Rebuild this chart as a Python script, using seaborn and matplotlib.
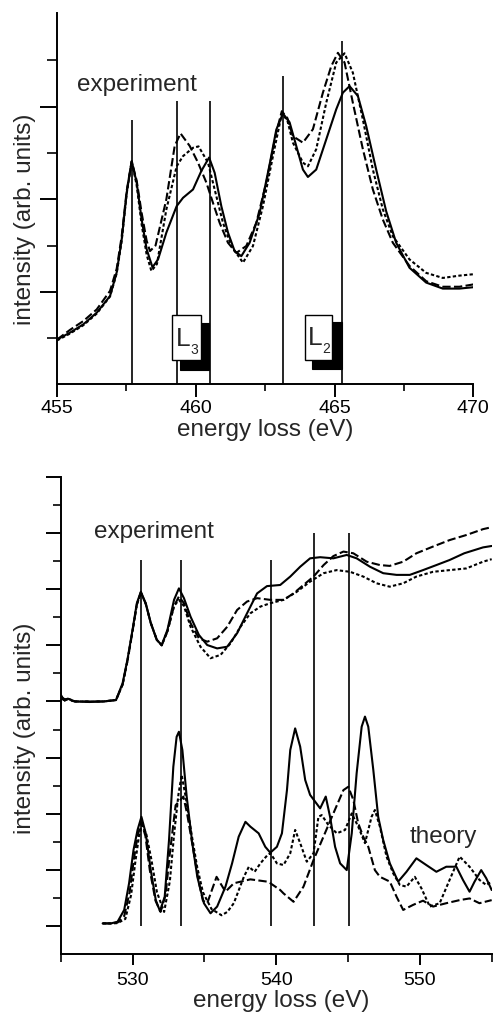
import numpy as np
import pandas as pd
import matplotlib
matplotlib.use("Agg")
import matplotlib.pyplot as plt
from matplotlib.patches import Rectangle
import seaborn as sns

# ---------------- data: top panel (L2,3 edge) ----------------
top_solid_x = [455.0, 455.47, 455.95, 456.43, 456.91, 457.15, 457.33, 457.51, 457.69, 457.87,
               458.05, 458.23, 458.44, 458.64, 458.94, 459.31, 459.54, 459.90, 460.20, 460.48,
               460.68, 460.92, 461.16, 461.40, 461.64, 461.94, 462.30, 462.66, 462.90, 463.14,
               463.38, 463.62, 463.86, 464.04, 464.34, 464.70, 465.06, 465.30, 465.54, 465.84,
               466.14, 466.50, 466.86, 467.22, 467.70, 468.30, 468.90, 469.50, 470.0]
top_solid_y = [0.97, 1.12, 1.30, 1.55, 1.91, 2.42, 3.13, 4.14, 4.82, 4.36,
               3.56, 2.92, 2.53, 2.70, 3.28, 3.85, 4.03, 4.21, 4.61, 4.90,
               4.57, 3.85, 3.28, 2.88, 2.77, 3.06, 3.70, 4.75, 5.50, 5.85,
               5.66, 5.15, 4.64, 4.48, 4.64, 5.29, 5.94, 6.30, 6.44, 6.23,
               5.58, 4.64, 3.74, 3.06, 2.52, 2.20, 2.07, 2.07, 2.10]

top_dash_x = [455.0, 455.47, 455.95, 456.43, 456.91, 457.15, 457.33, 457.51, 457.69, 457.87,
              458.05, 458.23, 458.35, 458.55, 458.94, 459.24, 459.45, 459.78, 460.08, 460.38,
              460.62, 460.86, 461.16, 461.46, 461.82, 462.18, 462.54, 462.90, 463.10, 463.30,
              463.50, 463.86, 464.22, 464.58, 464.88, 465.12, 465.36, 465.66, 466.02, 466.38,
              466.74, 467.10, 467.70, 468.30, 468.90, 469.50, 470.0]
top_dash_y = [0.97, 1.18, 1.37, 1.62, 2.02, 2.50, 3.20, 4.18, 4.82, 4.40,
              3.70, 3.10, 2.88, 3.00, 4.00, 5.15, 5.42, 5.15, 4.79, 4.36,
              3.92, 3.49, 3.06, 2.84, 2.99, 3.49, 4.36, 5.44, 5.90, 5.75,
              5.36, 5.22, 5.51, 6.30, 6.87, 7.16, 6.95, 6.08, 5.08, 4.21,
              3.56, 3.06, 2.56, 2.23, 2.11, 2.11, 2.16]

top_dot_x = [455.0, 455.47, 455.95, 456.43, 456.91, 457.15, 457.33, 457.51, 457.69, 457.87,
             458.05, 458.23, 458.40, 458.60, 458.94, 459.31, 459.54, 459.90, 460.10, 460.44,
             460.68, 460.98, 461.28, 461.70, 462.06, 462.42, 462.78, 463.10, 463.30, 463.50,
             463.86, 464.04, 464.34, 464.70, 465.06, 465.36, 465.66, 466.02, 466.38, 466.74,
             467.10, 467.70, 468.30, 468.90, 469.50, 470.0]
top_dot_y = [0.95, 1.10, 1.28, 1.53, 1.90, 2.40, 3.10, 4.12, 4.82, 4.30,
             3.45, 2.80, 2.45, 2.60, 3.78, 4.71, 4.93, 5.11, 5.14, 4.79,
             4.21, 3.49, 2.99, 2.63, 2.99, 3.85, 4.93, 5.85, 5.70, 5.22,
             4.79, 4.71, 5.08, 6.08, 6.95, 7.15, 6.73, 5.72, 4.64, 3.78,
             3.20, 2.70, 2.41, 2.30, 2.35, 2.38]

top_lines_x = [457.69, 459.34, 460.50, 463.14, 465.26]
top_lines_top = [5.72, 6.13, 6.13, 6.65, 7.41]

top_xticks = [455, 460, 465, 470]
top_xminor = [457.5, 462.5, 467.5]

# ---------------- data: bottom panel (O K edge) ----------------
exp_solid_x = [525.0, 525.2, 525.5, 526.0, 527.0, 528.0, 528.85, 529.31, 529.65, 530.0,
               530.30, 530.58, 530.92, 531.27, 531.69, 532.03, 532.43, 532.89, 533.23, 533.58,
               534.04, 534.62, 535.20, 535.89, 536.59, 537.28, 537.97, 538.67, 539.36, 540.28,
               540.98, 541.67, 542.36, 543.06, 543.98, 544.91, 545.60, 546.53, 547.45, 548.38,
               549.30, 550.22, 551.15, 552.07, 553.09, 554.40, 555.0]
exp_solid_y = [9.25, 9.05, 9.1, 9.0, 8.98, 9.0, 9.05, 9.65, 10.5, 11.55,
               12.50, 12.91, 12.50, 11.79, 11.19, 11.01, 11.55, 12.62, 13.03, 12.68,
               12.02, 11.37, 11.01, 10.89, 10.95, 11.43, 12.14, 12.85, 13.11, 13.15,
               13.45, 13.80, 14.10, 14.14, 14.10, 14.22, 14.10, 13.80, 13.57, 13.51,
               13.51, 13.68, 13.86, 14.04, 14.28, 14.49, 14.54]

exp_dash_x = [525.0, 525.2, 525.5, 526.0, 527.0, 528.0, 528.85, 529.31, 529.65, 530.0,
              530.30, 530.58, 530.92, 531.27, 531.69, 532.03, 532.43, 532.89, 533.23, 533.58,
              534.04, 534.62, 535.20, 535.89, 536.59, 537.28, 537.97, 538.67, 539.59, 540.51,
              541.21, 541.90, 542.60, 543.30, 543.98, 544.68, 545.37, 546.30, 547.22, 547.90,
              548.84, 549.76, 550.92, 552.07, 553.23, 554.40, 555.0]
exp_dash_y = [9.2, 9.1, 9.05, 9.0, 9.0, 9.0, 9.05, 9.6, 10.45, 11.5,
              12.45, 12.88, 12.48, 11.8, 11.2, 11.0, 11.5, 12.4, 12.74, 12.5,
              11.79, 11.25, 11.13, 11.25, 11.66, 12.26, 12.56, 12.68, 12.62, 12.62,
              12.85, 13.15, 13.45, 13.86, 14.18, 14.34, 14.28, 13.98, 13.86, 13.83,
              13.98, 14.28, 14.52, 14.75, 14.93, 15.14, 15.21]

exp_dot_x = [525.0, 525.2, 525.5, 526.0, 527.0, 528.0, 528.85, 529.31, 529.65, 530.0,
             530.30, 530.58, 530.92, 531.27, 531.69, 532.03, 532.43, 532.89, 533.23, 533.58,
             534.04, 534.73, 535.43, 536.13, 536.82, 537.51, 538.20, 538.90, 539.59, 540.51,
             541.44, 542.36, 543.30, 544.20, 545.14, 546.06, 546.99, 547.90, 548.84, 549.76,
             550.92, 552.07, 553.23, 554.40, 555.0]
exp_dot_y = [9.15, 9.0, 9.1, 9.0, 9.0, 9.0, 9.05, 9.6, 10.45, 11.5,
             12.45, 12.88, 12.48, 11.8, 11.2, 11.0, 11.5, 12.4, 12.62, 12.4,
             11.66, 10.95, 10.54, 10.66, 11.07, 11.66, 12.14, 12.38, 12.50, 12.62,
             12.91, 13.27, 13.57, 13.68, 13.62, 13.45, 13.21, 13.09, 13.21, 13.45,
             13.62, 13.68, 13.74, 13.98, 14.07]

th_solid_x = [527.92, 528.5, 528.96, 529.42, 529.76, 530.07, 530.35, 530.62, 530.92, 531.27,
              531.62, 531.91, 532.24, 532.54, 532.84, 533.07, 533.23, 533.47, 533.77, 534.16,
              534.51, 534.97, 535.43, 535.89, 536.47, 536.93, 537.39, 537.86, 538.20, 538.78,
              539.24, 539.59, 540.05, 540.40, 540.75, 540.98, 541.32, 541.67, 542.02, 542.36,
              542.71, 543.06, 543.45, 543.75, 544.10, 544.45, 544.91, 545.26, 545.60, 545.95,
              546.18, 546.41, 546.76, 547.10, 547.45, 547.91, 548.49, 549.07, 549.76, 550.45,
              551.15, 551.84, 552.54, 553.00, 553.46, 553.81, 554.27, 554.62, 555.0]
th_solid_y = [1.09, 1.09, 1.15, 1.57, 2.52, 3.71, 4.42, 4.89, 4.30, 2.99,
              1.92, 1.53, 2.04, 4.06, 6.67, 7.74, 7.92, 7.27, 5.61, 3.95,
              2.75, 1.81, 1.45, 1.69, 2.40, 3.23, 4.18, 4.71, 4.54, 4.30,
              3.82, 3.61, 3.82, 4.30, 5.84, 7.27, 8.04, 7.39, 6.20, 5.67,
              5.43, 5.19, 5.61, 4.89, 3.82, 3.23, 2.99, 4.30, 6.44, 8.10,
              8.46, 8.10, 6.56, 4.89, 4.06, 3.23, 2.58, 2.93, 3.41, 3.17,
              2.93, 3.11, 3.11, 2.64, 2.22, 2.58, 2.99, 2.70, 2.28]

th_dash_x = [527.92, 528.5, 528.96, 529.42, 529.80, 530.10, 530.35, 530.62, 530.90, 531.20,
             531.60, 531.95, 532.30, 532.60, 533.00, 533.54, 533.80, 534.20, 534.60, 534.90,
             535.20, 535.85, 536.47, 537.05, 538.20, 539.36, 539.60, 540.28, 540.51, 541.21,
             541.90, 542.60, 543.29, 543.98, 544.68, 545.02, 545.37, 545.71, 546.06, 546.41,
             546.87, 547.22, 547.91, 548.38, 548.84, 549.53, 550.22, 550.92, 551.84, 552.77,
             553.46, 554.15, 555.0]
th_dash_y = [1.09, 1.09, 1.12, 1.35, 2.20, 3.40, 4.20, 4.70, 4.20, 3.00,
             1.90, 1.50, 2.10, 3.60, 5.30, 5.61, 5.00, 3.80, 2.60, 1.90,
             1.81, 2.75, 2.22, 2.52, 2.66, 2.58, 2.52, 2.28, 2.16, 1.86,
             2.40, 3.35, 4.18, 5.01, 5.84, 5.96, 5.49, 4.66, 4.18, 3.82,
             2.99, 2.75, 2.58, 2.04, 1.57, 1.75, 1.90, 1.69, 1.81, 1.92,
             1.98, 1.81, 1.92]

th_dot_x = [527.92, 528.5, 528.96, 529.50, 529.90, 530.20, 530.45, 530.65, 530.95, 531.30,
            531.70, 532.20, 532.60, 532.90, 533.20, 533.42, 533.70, 534.10, 534.50, 534.90,
            535.50, 536.20, 536.60, 537.05, 537.40, 537.75, 538.10, 538.50, 538.90, 539.40,
            539.60, 540.05, 540.51, 540.98, 541.32, 541.67, 542.13, 542.60, 542.94, 543.17,
            543.63, 544.22, 544.79, 545.26, 545.71, 546.18, 546.64, 546.87, 547.22, 547.68,
            548.14, 548.61, 549.07, 549.65, 550.11, 550.69, 551.38, 552.07, 552.77, 553.46,
            554.15, 554.62, 555.0]
th_dot_y = [1.09, 1.09, 1.10, 1.25, 2.10, 3.30, 4.20, 4.60, 4.30, 3.40,
            2.20, 1.50, 2.60, 4.30, 5.70, 6.38, 5.60, 4.30, 3.10, 2.20,
            1.60, 1.38, 1.50, 1.81, 2.28, 2.75, 3.11, 2.93, 3.23, 3.53,
            3.59, 3.23, 3.17, 3.59, 4.42, 3.95, 3.29, 3.59, 4.89, 4.95,
            4.60, 4.30, 4.42, 5.01, 4.54, 3.95, 4.89, 5.13, 4.54, 3.47,
            2.88, 2.46, 2.40, 2.75, 2.34, 1.69, 1.81, 2.64, 3.47, 3.11,
            2.64, 2.46, 2.58]

bot_lines_x = [530.62, 533.35, 539.65, 542.62, 545.06]
bot_lines_bottom = [1.0, 1.0, 1.0, 1.0, 1.0]
bot_lines_top = [14.04, 14.04, 14.04, 14.99, 14.99]

bot_xticks = [530, 540, 550]
bot_xminor = [525, 535, 545, 555]

# ---------------- style ----------------
sns.set_style("ticks")
plt.rcParams['font.family'] = ['Liberation Sans', 'DejaVu Sans']

LW = 1.5
DASH = (0, (4.0, 1.6))
DOT = (0, (1.6, 1.1))
LABEL_FS = 17.5
TICK_FS = 14

fig = plt.figure(figsize=(4.95, 10.15), dpi=100)
ax1 = fig.add_axes([0.1152, 0.6212, 0.8410, 0.3660])
ax2 = fig.add_axes([0.1226, 0.0601, 0.8707, 0.4700])


def draw(ax, xs, ys, ls):
    df = pd.DataFrame({"energy": xs, "intensity": ys})
    sns.lineplot(data=df, x="energy", y="intensity", ax=ax, color="black",
                 lw=LW, linestyle=ls, estimator=None, sort=False, zorder=5)


# ---- top panel ----
ax1.vlines(top_lines_x, 0, top_lines_top, colors="black", lw=1.2, zorder=2)
draw(ax1, top_solid_x, top_solid_y, "-")
draw(ax1, top_dash_x, top_dash_y, DASH)
draw(ax1, top_dot_x, top_dot_y, DOT)

# L3 / L2 markers (shadowed boxes)
for (sx, sy, sw, sh), (wx, wy, ww, wh), (lx, ly), (nx, ny), sub in [
        ((459.42, 0.32, 1.05, 1.00), (459.14, 0.52, 1.04, 0.97), (459.28, 0.84), (459.80, 0.65), "3"),
        ((464.20, 0.34, 1.07, 1.01), (463.95, 0.52, 0.97, 0.99), (464.03, 0.86), (464.55, 0.67), "2")]:
    ax1.add_patch(Rectangle((sx, sy), sw, sh, facecolor="black", edgecolor="black", lw=0.8, zorder=3))
    ax1.add_patch(Rectangle((wx, wy), ww, wh, facecolor="white", edgecolor="black", lw=1.0, zorder=3.5))
    ax1.text(lx, ly, "L", fontsize=19, ha="left", va="baseline", zorder=4)
    ax1.text(nx, ny, sub, fontsize=10, ha="left", va="baseline", zorder=4)

ax1.text(455.72, 6.33, "experiment", fontsize=LABEL_FS, ha="left", va="baseline")

ax1.set_xlim(455, 470)
ax1.set_ylim(0, 8.02)
ax1.set_xticks(top_xticks)
ax1.set_xticks(top_xminor, minor=True)
ax1.set_yticks([2, 4, 6])
ax1.set_yticks([1, 3, 5, 7], minor=True)
ax1.set_yticklabels([])
ax1.set_xticklabels([str(t) for t in top_xticks])
ax1.tick_params(axis="x", which="major", length=9, width=1.4, labelsize=TICK_FS, pad=2)
ax1.tick_params(axis="x", which="minor", length=5, width=1.4)
ax1.tick_params(axis="y", which="major", length=12, width=1.4)
ax1.tick_params(axis="y", which="minor", length=7, width=1.4)
ax1.set_xlabel("energy loss (eV)", fontsize=LABEL_FS)
ax1.set_ylabel("intensity (arb. units)", fontsize=LABEL_FS)
ax1.xaxis.set_label_coords(0.5, -0.094)
ax1.yaxis.set_label_coords(-0.050, 0.445)

# ---- bottom panel ----
ax2.vlines(bot_lines_x, bot_lines_bottom, bot_lines_top, colors="black", lw=1.2, zorder=2)
draw(ax2, exp_solid_x, exp_solid_y, "-")
draw(ax2, exp_dash_x, exp_dash_y, DASH)
draw(ax2, exp_dot_x, exp_dot_y, DOT)
draw(ax2, th_solid_x, th_solid_y, "-")
draw(ax2, th_dash_x, th_dash_y, DASH)
draw(ax2, th_dot_x, th_dot_y, DOT)

ax2.text(527.34, 14.83, "experiment", fontsize=LABEL_FS, ha="left", va="baseline")
ax2.text(549.3, 3.96, "theory", fontsize=LABEL_FS, ha="left", va="baseline")

ax2.set_xlim(525, 555)
ax2.set_ylim(0, 17)
ax2.set_xticks(bot_xticks)
ax2.set_xticks(bot_xminor, minor=True)
ax2.set_yticks(list(range(1, 18, 2)))
ax2.set_yticks(list(range(2, 17, 2)), minor=True)
ax2.set_yticklabels([])
ax2.set_xticklabels([str(t) for t in bot_xticks])
ax2.tick_params(axis="x", which="major", length=8, width=1.4, labelsize=TICK_FS, pad=5)
ax2.tick_params(axis="x", which="minor", length=6, width=1.4)
ax2.tick_params(axis="y", which="major", length=11, width=1.4)
ax2.tick_params(axis="y", which="minor", length=6, width=1.4)
ax2.set_xlabel("energy loss (eV)", fontsize=LABEL_FS)
ax2.set_ylabel("intensity (arb. units)", fontsize=LABEL_FS)
ax2.xaxis.set_label_coords(0.511, -0.0765)
ax2.yaxis.set_label_coords(-0.057, 0.474)

for ax in (ax1, ax2):
    sns.despine(ax=ax)
    for s in ("left", "bottom"):
        ax.spines[s].set_linewidth(1.4)
        ax.spines[s].set_color("black")
    ax.tick_params(colors="black")

fig.savefig("out.png", dpi=100)
